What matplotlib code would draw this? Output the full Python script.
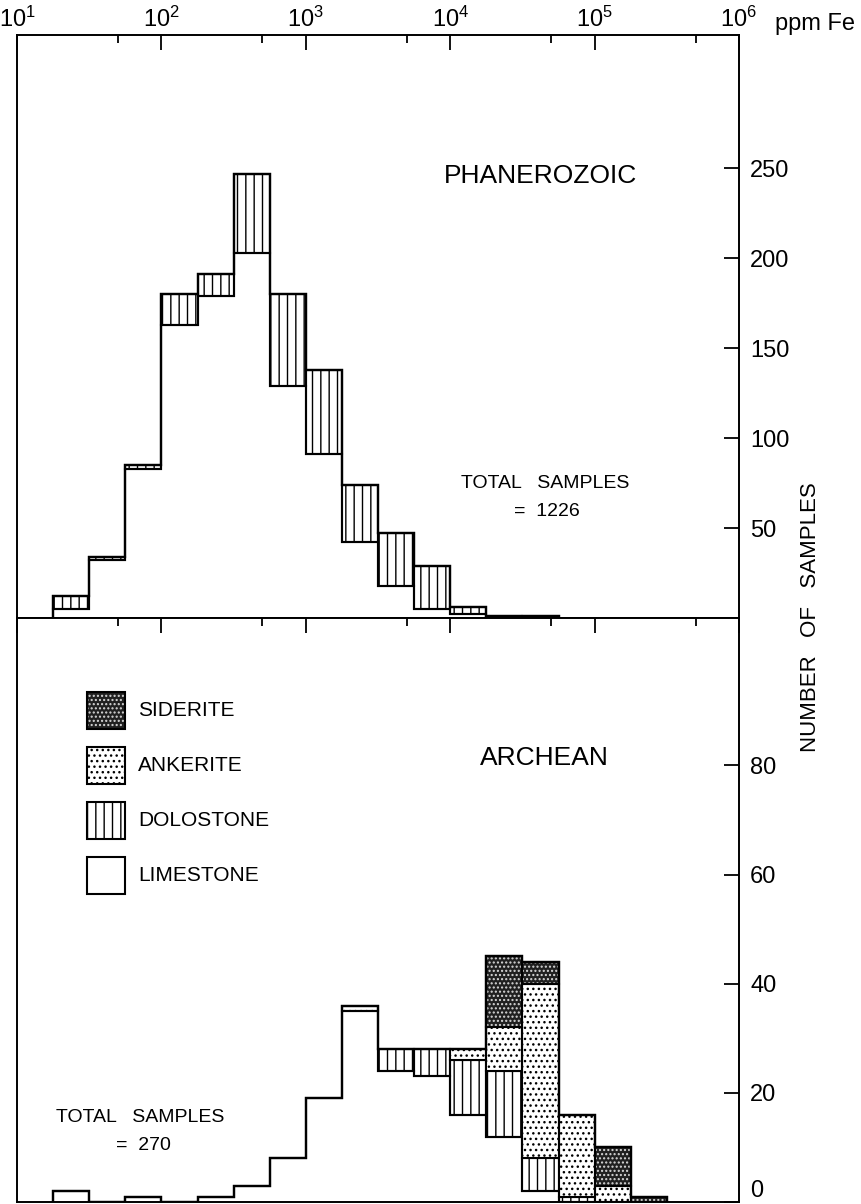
import numpy as np
import matplotlib
matplotlib.use('Agg')
import matplotlib.pyplot as plt
from matplotlib.patches import Rectangle
from matplotlib.ticker import FixedLocator

plt.rcParams['font.family'] = ['Liberation Sans', 'DejaVu Sans']
plt.rcParams['mathtext.fontset'] = 'custom'
plt.rcParams['mathtext.rm'] = 'Liberation Sans'
plt.rcParams['hatch.linewidth'] = 1.0

W, H = 861, 1204

# bin edges, log10(ppm Fe)
edge_exp = [1.25, 1.5, 1.75, 2.0, 2.25, 2.5, 2.75, 3.0, 3.25, 3.5, 3.75,
            4.0, 4.25, 4.5, 4.75, 5.0, 5.25, 5.5]

# Phanerozoic counts per bin
phan_limestone = [5, 32, 83, 163, 179, 203, 129, 91, 42, 18, 5, 2, 0, 0, 0, 0, 0]
phan_dolostone = [7, 2, 2, 17, 12, 44, 51, 47, 32, 29, 24, 4, 1, 1, 0, 0, 0]

# Archean counts per bin
arch_limestone = [2, 0, 1, 0, 1, 3, 8, 19, 35, 24, 23, 16, 12, 2, 0, 0, 0]
arch_dolostone = [0, 0, 0, 0, 0, 0, 0, 0, 0, 4, 5, 10, 12, 6, 1, 0, 0]
arch_ankerite = [0, 0, 0, 0, 0, 0, 0, 0, 1, 0, 0, 2, 8, 32, 15, 3, 0]
arch_siderite = [0, 0, 0, 0, 0, 0, 0, 0, 0, 0, 0, 0, 13, 4, 0, 7, 1]

legend_names = ['SIDERITE', 'ANKERITE', 'DOLOSTONE', 'LIMESTONE']
x_tick_exp = [1, 2, 3, 4, 5, 6]
phan_yticks = [50, 100, 150, 200, 250]
arch_yticks = [0, 20, 40, 60, 80]

# fill style per rock type: face colour, hatch, hatch colour
styles = {
    'SIDERITE': ('#202020', '....', '#d8d8d8'),
    'ANKERITE': ('white', '...', 'black'),
    'DOLOSTONE': ('white', '||', 'black'),
    'LIMESTONE': ('white', None, 'black'),
}


def fx(x):
    return x / W


def fy(y):
    return 1 - y / H


def draw_layer(ax, edges, bottom, heights, kind):
    face, hatch, hcol = styles[kind]
    left = edges[:-1]
    width = np.diff(edges)
    m = heights > 0
    ax.bar(left[m], heights[m], width=width[m], bottom=bottom[m], align='edge',
           color=face, edgecolor=hcol, hatch=hatch, linewidth=0)
    ax.bar(left[m], heights[m], width=width[m], bottom=bottom[m], align='edge',
           fill=False, edgecolor='black', linewidth=1.5)


def draw_panel(ax, layers):
    edges = 10.0 ** np.array(edge_exp)
    bottom = np.zeros(len(edges) - 1)
    lime = np.array(layers[0][1], dtype=float)
    bottom += lime
    for kind, vals in layers[1:]:
        vals = np.array(vals, dtype=float)
        draw_layer(ax, edges, bottom, vals, kind)
        bottom += vals
    # outlines only over the occupied range of bins
    last = np.nonzero(bottom)[0].max() + 1
    ax.stairs(lime[:last], edges[:last + 1], baseline=0, color='black', linewidth=1.5)
    ax.stairs(bottom[:last], edges[:last + 1], baseline=0, color='black', linewidth=1.7)


fig = plt.figure(figsize=(W / 100, H / 100), dpi=100)
ax1 = fig.add_axes([fx(17), fy(618), fx(739) - fx(17), (618 - 35) / H])
ax2 = fig.add_axes([fx(17), fy(1202), fx(739) - fx(17), (1202 - 618) / H])

draw_panel(ax1, [('LIMESTONE', phan_limestone), ('DOLOSTONE', phan_dolostone)])
draw_panel(ax2, [('LIMESTONE', arch_limestone), ('DOLOSTONE', arch_dolostone),
                 ('ANKERITE', arch_ankerite), ('SIDERITE', arch_siderite)])

ax1.set_ylim(0, 324)
ax2.set_ylim(0, 107)

for ax in (ax1, ax2):
    ax.set_xscale('log')
    ax.set_xlim(10, 1e6)
    ax.xaxis.set_major_locator(FixedLocator([10.0 ** k for k in x_tick_exp]))
    ax.xaxis.set_minor_locator(FixedLocator([5 * 10.0 ** k for k in x_tick_exp[:-1]]))
    ax.tick_params(axis='x', which='both', direction='in', top=True, bottom=False,
                   labeltop=False, labelbottom=False, width=1.3)
    ax.tick_params(axis='x', which='major', length=10.8)
    ax.tick_params(axis='x', which='minor', length=5.8)
    ax.yaxis.tick_right()
    ax.tick_params(axis='y', which='both', direction='in', length=10.8, width=1.3,
                   left=False, right=True, labelsize=17, pad=8)
    ax.yaxis.set_minor_locator(FixedLocator([]))
    for s in ax.spines.values():
        s.set_linewidth(1.4)

ax1.set_yticks(phan_yticks)
ax2.set_yticks(arch_yticks)
ax1.tick_params(axis='x', labeltop=True, labelsize=17, pad=2)
ax1.set_xticklabels([r'$\mathregular{10^{%d}}$' % k for k in x_tick_exp])
ax2.yaxis.get_major_ticks()[0].label2.set_va('bottom')

fig.text(fx(775), fy(24), 'ppm Fe', fontsize=17, va='center', ha='left')
fig.text(fx(811), fy(617), 'NUMBER   OF   SAMPLES', rotation=90, fontsize=16,
         ha='center', va='center')

fig.text(fx(540), fy(176), 'PHANEROZOIC', fontsize=19, ha='center', va='center')
fig.text(fx(544), fy(758), 'ARCHEAN', fontsize=19, ha='center', va='center')

fig.text(fx(545), fy(483), 'TOTAL   SAMPLES', fontsize=14, ha='center', va='center')
fig.text(fx(547), fy(511), '=  1226', fontsize=14, ha='center', va='center')
fig.text(fx(140), fy(1117), 'TOTAL   SAMPLES', fontsize=14, ha='center', va='center')
fig.text(fx(143), fy(1145), '=  270', fontsize=14, ha='center', va='center')

# legend boxes
for i, name in enumerate(legend_names):
    face, hatch, hcol = styles[name]
    top = 692 + 55 * i
    fig.add_artist(Rectangle((fx(87), fy(top + 37)), 38 / W, 37 / H,
                             transform=fig.transFigure, facecolor=face,
                             edgecolor=hcol, hatch=hatch, linewidth=0))
    fig.add_artist(Rectangle((fx(87), fy(top + 37)), 38 / W, 37 / H,
                             transform=fig.transFigure, fill=False,
                             edgecolor='black', linewidth=1.5))
    fig.text(fx(138), fy(top + 18.5), name, fontsize=15, ha='left', va='center')

fig.savefig('out.png', dpi=100)
